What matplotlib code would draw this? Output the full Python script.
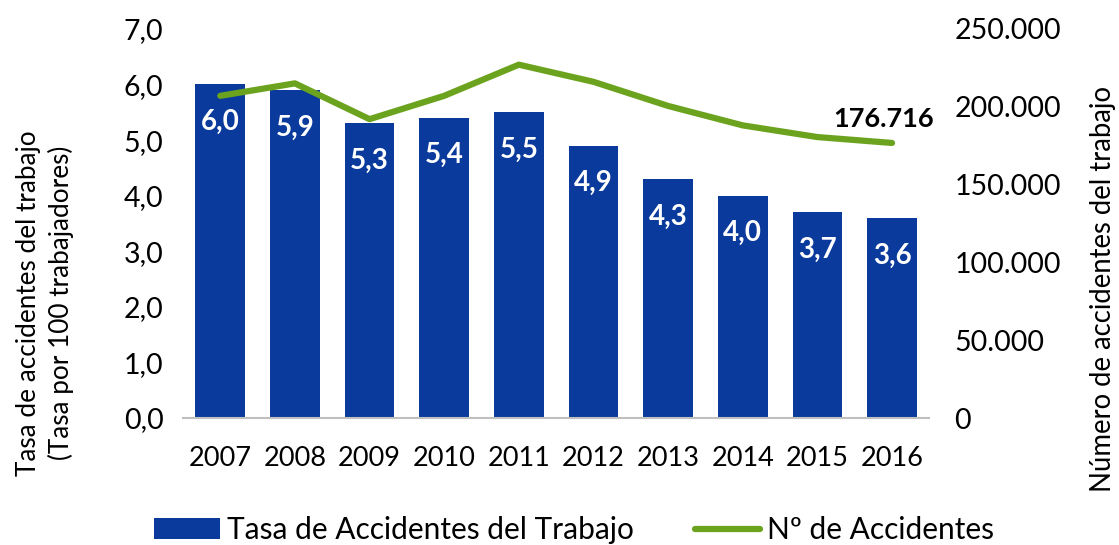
import matplotlib.pyplot as plt
from matplotlib.ticker import FuncFormatter

# datos
anios = ['2007', '2008', '2009', '2010', '2011', '2012', '2013', '2014', '2015', '2016']
tasa = [6.0, 5.9, 5.3, 5.4, 5.5, 4.9, 4.3, 4.0, 3.7, 3.6]
accidentes = [207000, 215000, 192000, 207000, 227000, 216000, 200500, 188000, 180500, 176716]

azul = '#0A3A9C'
verde = '#6BA31F'
plt.rcParams['font.family'] = ['Lato', 'DejaVu Sans']

fig = plt.figure(figsize=(11.19, 5.45), dpi=100)
ax1 = fig.add_axes([0.1635, 0.233, 0.667, 0.714])
ax2 = ax1.twinx()

x = list(range(len(anios)))
barras = ax1.bar(x, tasa, width=0.665, color=azul, label='Tasa de Accidentes del Trabajo', zorder=2)
for xi, v in zip(x, tasa):
    ax1.annotate(f'{v:.1f}'.replace('.', ','), (xi, v), xytext=(0, -27), textcoords='offset points',
                 ha='center', va='center', color='white', fontsize=20, fontweight='bold')

linea, = ax2.plot(x, accidentes, color=verde, linewidth=4.5, solid_capstyle='round',
                  label='Nº de Accidentes', zorder=3)
ax2.annotate(f'{accidentes[-1]:,}'.replace(',', '.'), (x[-1], accidentes[-1]), xytext=(-6, 17),
             textcoords='offset points', ha='center', va='center', fontsize=19.5, fontweight='bold')

ax1.set_xlim(-0.5, 9.5)
ax1.set_ylim(0, 7)
ax2.set_ylim(0, 250000)
ax1.set_yticks([0, 1, 2, 3, 4, 5, 6, 7])
ax2.set_yticks([0, 50000, 100000, 150000, 200000, 250000])
ax1.yaxis.set_major_formatter(FuncFormatter(lambda v, p: f'{v:.1f}'.replace('.', ',')))
ax2.yaxis.set_major_formatter(FuncFormatter(lambda v, p: f'{int(v):,}'.replace(',', '.')))
ax1.set_xticks(x)
ax1.set_xticklabels(anios)

for ax in (ax1, ax2):
    for s in ax.spines.values():
        s.set_visible(False)
    ax.tick_params(length=0, labelsize=20.5)
ax1.spines['bottom'].set_visible(True)
ax1.spines['bottom'].set_color('#BFBFBF')
ax1.spines['bottom'].set_linewidth(1.5)
ax1.tick_params(axis='y', pad=14)
ax1.tick_params(axis='x', pad=20, labelsize=19.5)
ax2.tick_params(axis='y', pad=18)

ax1.set_ylabel('Tasa de accidentes del trabajo\n(Tasa por 100 trabajadores)', fontsize=18.8,
               linespacing=1.3, ha='center', va='center')
ax1.yaxis.set_label_coords(-0.185, 0.296)
ax2.set_ylabel('Número de accidentes del trabajo', fontsize=19.8, ha='center', va='center')
ax2.yaxis.set_label_coords(1.233, 0.332)

fig.legend(handles=[barras, linea], loc='center', bbox_to_anchor=(0.513, 0.027), ncol=2,
           frameon=False, fontsize=21.5, handlelength=2.2, handletextpad=0.23, columnspacing=2.05)

fig.savefig('out.png', dpi=100)
